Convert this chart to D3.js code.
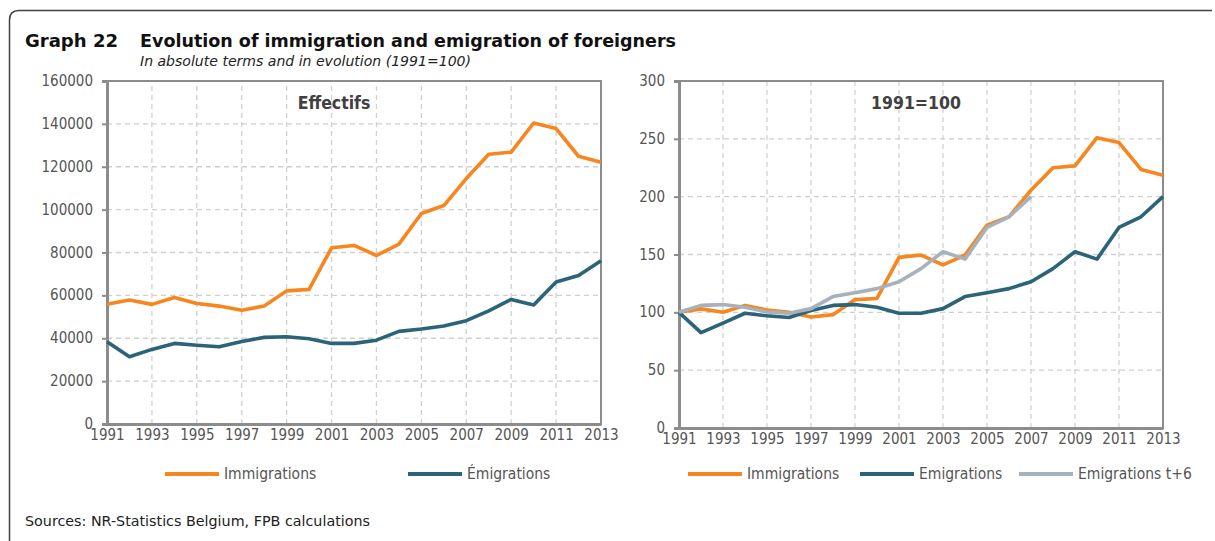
<!DOCTYPE html>
<html>
<head>
<meta charset="utf-8">
<script src="https://cdn.jsdelivr.net/npm/d3@7"></script>
<style>
  body { margin: 0; background: #fff; }
  svg { display: block; }
</style>
</head>
<body>
<svg id="chart" width="1215" height="541"></svg>
<script>
// data
var years = d3.range(1991, 2014);
var tickYears = [1991, 1993, 1995, 1997, 1999, 2001, 2003, 2005, 2007, 2009, 2011, 2013];

var immigrations = [55900, 57800, 55800, 59000, 56200, 55000, 53100, 55000, 62100, 62800,
  82200, 83300, 78600, 83900, 98200, 101900, 114500, 125800, 126800, 140400, 137800, 124900, 122100];
var emigrations = [38400, 31400, 34800, 37600, 36700, 36000, 38500, 40400, 40700, 39800,
  37600, 37600, 39100, 43200, 44300, 45700, 48200, 52800, 58100, 55500, 66200, 69300, 76100];

var immigrationsIdx = [100, 103, 100, 106, 102, 100, 96, 98, 111, 112,
  147.5, 149.5, 141, 149.5, 175.4, 182.6, 205.6, 225, 226.6, 251, 246.8, 223.5, 218.6];
var emigrationsIdx = [100, 82.5, 90.6, 99.2, 97, 95.5, 101.5, 106, 106.7, 104.4,
  99.2, 99.2, 103.2, 113.6, 117, 120.5, 126.5, 137.8, 152.4, 146, 173.4, 182.6, 200];
var emigrationsT6 = [100, 106, 106.7, 104.4, 100.4, 99.2, 103.2, 113.6, 117, 120.5,
  126.5, 137.8, 152.4, 146, 173.4, 182.6, 200];

var leftTicks = [0, 20000, 40000, 60000, 80000, 100000, 120000, 140000, 160000];
var rightTicks = [0, 50, 100, 150, 200, 250, 300];

var colors = { imm: '#f7861f', emi: '#2b6479', t6: '#a7b1bc' };
var fontBold = "'DejaVu Sans Condensed', 'DejaVu Sans', sans-serif";
var fontReg = "'DejaVu Sans Condensed', 'DejaVu Sans', sans-serif";

var svg = d3.select('#chart');

// outer frame, only top and left with rounded corner
svg.append('path')
  .attr('d', 'M9.5,541 L9.5,20 Q9.5,10.5 19,10.5 L1212,10.5')
  .attr('fill', 'none')
  .attr('stroke', '#404040')
  .attr('stroke-width', 1.5);

function fitText(sel, w) {
  sel.attr('textLength', w).attr('lengthAdjust', 'spacingAndGlyphs');
  return sel;
}

fitText(svg.append('text')
  .attr('x', 25).attr('y', 47)
  .attr('font-family', fontBold).attr('font-weight', 'bold')
  .attr('font-size', 18).attr('fill', '#111')
  .text('Graph 22'), 93);

fitText(svg.append('text')
  .attr('x', 140).attr('y', 47)
  .attr('font-family', fontBold).attr('font-weight', 'bold')
  .attr('font-size', 18).attr('fill', '#111')
  .text('Evolution of immigration and emigration of foreigners'), 536);

fitText(svg.append('text')
  .attr('x', 140).attr('y', 66)
  .attr('font-family', fontReg).attr('font-style', 'italic')
  .attr('font-size', 13.5).attr('fill', '#222')
  .text('In absolute terms and in evolution (1991=100)'), 331);

fitText(svg.append('text')
  .attr('x', 25).attr('y', 526)
  .attr('font-family', fontReg)
  .attr('font-size', 13.5).attr('fill', '#222')
  .text('Sources: NR-Statistics Belgium, FPB calculations'), 345);

function drawPanel(cfg) {
  var g = svg.append('g').attr('class', 'panel');
  var x = d3.scaleLinear().domain([1991, 2013]).range(cfg.xRange);
  var y = d3.scaleLinear().domain(cfg.yDomain).range(cfg.yRange);

  // gridlines
  g.append('g').selectAll('line.h')
    .data(cfg.yTicks.slice(1, -1))
    .enter().append('line')
    .attr('x1', x.range()[0]).attr('x2', x.range()[1])
    .attr('y1', function (d) { return y(d); }).attr('y2', function (d) { return y(d); })
    .attr('stroke', '#d0d0d0').attr('stroke-width', 1.3).attr('stroke-dasharray', '5,4');
  g.append('g').selectAll('line.v')
    .data(tickYears.slice(1, -1))
    .enter().append('line')
    .attr('x1', function (d) { return x(d); }).attr('x2', function (d) { return x(d); })
    .attr('y1', y.range()[0]).attr('y2', y.range()[1])
    .attr('stroke', '#d0d0d0').attr('stroke-width', 1.3).attr('stroke-dasharray', '5,4');

  // plot border
  g.append('rect')
    .attr('x', x.range()[0]).attr('y', y.range()[1])
    .attr('width', x.range()[1] - x.range()[0])
    .attr('height', y.range()[0] - y.range()[1])
    .attr('fill', 'none').attr('stroke', '#8c8c8c').attr('stroke-width', 2);

  // axes
  var yAxis = g.append('g')
    .attr('transform', 'translate(' + x.range()[0] + ',0)')
    .call(d3.axisLeft(y).tickValues(cfg.yTicks).tickSize(5).tickPadding(9).tickFormat(d3.format('d')));
  var xAxis = g.append('g')
    .attr('transform', 'translate(0,' + y.range()[0] + ')')
    .call(d3.axisBottom(x).tickValues(tickYears).tickSize(0).tickPadding(5).tickFormat(d3.format('d')));
  [yAxis, xAxis].forEach(function (a) {
    a.select('.domain').attr('stroke', '#8c8c8c').attr('stroke-width', 3);
    a.selectAll('.tick line').attr('stroke', '#8c8c8c').attr('stroke-width', 2);
    a.selectAll('text')
      .attr('font-family', fontReg).attr('font-size', 15).attr('fill', '#555');
  });
  yAxis.selectAll('text').attr('dy', '0.3em');

  // lines
  cfg.series.forEach(function (s) {
    var line = d3.line()
      .x(function (d, i) { return x(years[i]); })
      .y(function (d) { return y(d); });
    g.append('path')
      .datum(s.values)
      .attr('d', line)
      .attr('fill', 'none')
      .attr('stroke', s.color)
      .attr('stroke-width', 3.6)
      .attr('stroke-linejoin', 'round');
  });

  // panel title
  g.append('text')
    .attr('x', cfg.titleX).attr('y', 109)
    .attr('text-anchor', 'middle')
    .attr('font-family', fontBold).attr('font-weight', 'bold')
    .attr('font-size', 17.5).attr('fill', '#404040')
    .text(cfg.title);

  // legend
  var leg = g.append('g').selectAll('g')
    .data(cfg.legend).enter().append('g')
    .attr('transform', function (d) { return 'translate(' + d.x + ',474)'; });
  leg.append('line')
    .attr('x1', 0).attr('x2', 54)
    .attr('stroke', function (d) { return d.color; })
    .attr('stroke-width', 4);
  leg.append('text')
    .attr('x', 59).attr('dy', '0.35em')
    .attr('font-family', fontReg).attr('font-size', 15.5).attr('fill', '#555')
    .text(function (d) { return d.label; });
}

drawPanel({
  xRange: [107, 601],
  yDomain: [0, 160000],
  yRange: [424, 81],
  yTicks: leftTicks,
  title: 'Effectifs',
  titleX: 334,
  series: [
    { values: immigrations, color: colors.imm },
    { values: emigrations, color: colors.emi }
  ],
  legend: [
    { x: 165, label: 'Immigrations', color: colors.imm },
    { x: 408, label: 'Émigrations', color: colors.emi }
  ]
});

drawPanel({
  xRange: [679, 1163],
  yDomain: [0, 300],
  yRange: [428, 81],
  yTicks: rightTicks,
  title: '1991=100',
  titleX: 916,
  series: [
    { values: immigrationsIdx, color: colors.imm },
    { values: emigrationsIdx, color: colors.emi },
    { values: emigrationsT6, color: colors.t6 }
  ],
  legend: [
    { x: 688, label: 'Immigrations', color: colors.imm },
    { x: 860, label: 'Emigrations', color: colors.emi },
    { x: 1019, label: 'Emigrations t+6', color: colors.t6 }
  ]
});
</script>
</body>
</html>
